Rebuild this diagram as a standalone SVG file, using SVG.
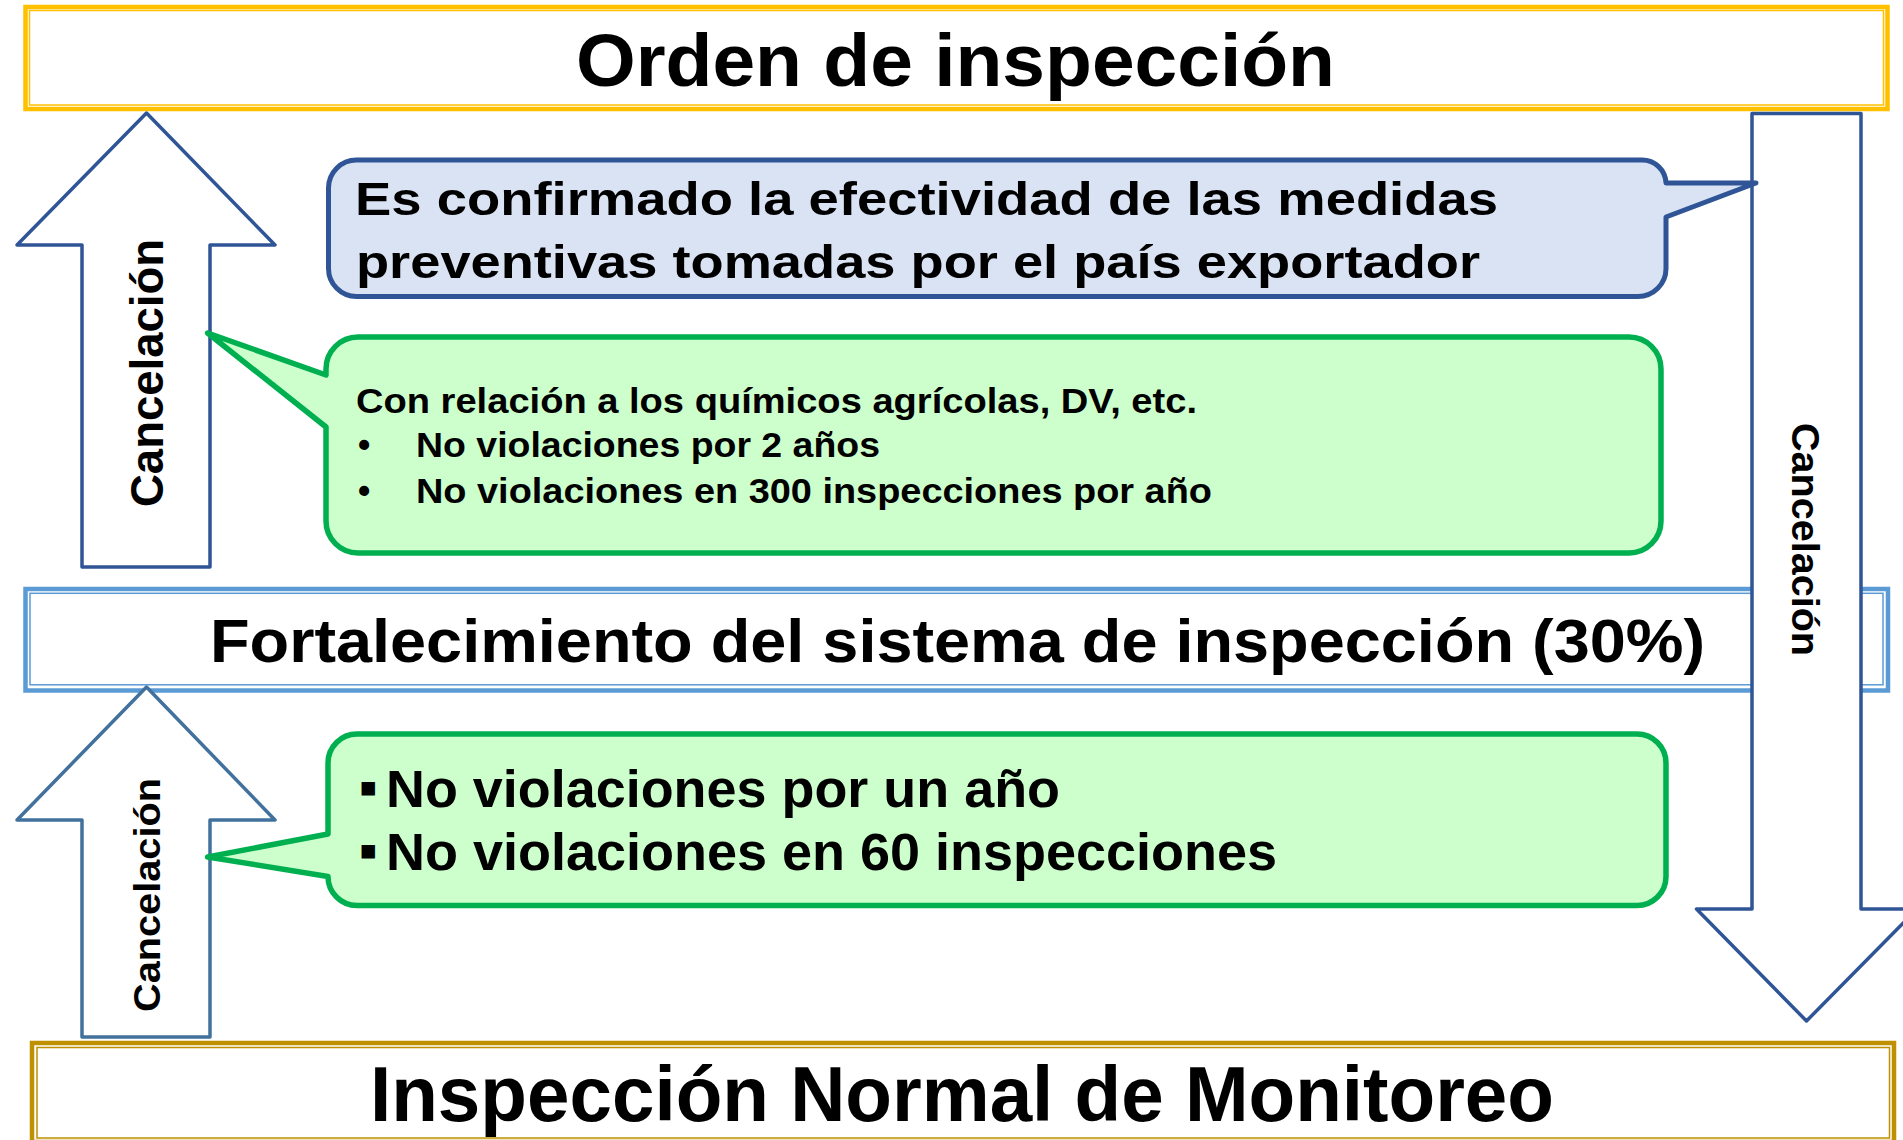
<svg xmlns="http://www.w3.org/2000/svg" width="1903" height="1140" viewBox="0 0 1903 1140">
  <style>
    .t { font-family: "Liberation Sans", Arial, sans-serif; font-weight: bold; fill: #000000; }
    .frame { fill: #FFFFFF; }
    .thick { fill: none; stroke-width: 4.5; }
    .thin { fill: none; stroke-width: 1.5; }
    .gold { stroke: #FFC000; }
    .dgold { stroke: #BF9000; }
    .lblue { stroke: #5B9BD5; }
    .arrow { fill: #FFFFFF; stroke-width: 3.5; stroke-linejoin: round; }
    .callout-blue { fill: #DAE3F3; stroke: #2F5597; stroke-width: 5; stroke-linejoin: round; }
    .callout-green { fill: #CCFFCC; stroke: #00B050; stroke-width: 5.5; stroke-linejoin: round; }
    .sq { font-family: "DejaVu Sans", sans-serif; font-size: 27px; }
  </style>

  <rect width="1903" height="1140" fill="#FFFFFF"/>

  <g id="box-orden">
    <rect class="frame" x="25.5" y="7" width="1862" height="102"/>
    <rect class="thick gold" x="25.5" y="7" width="1862" height="102"/>
    <rect class="thin gold" x="29.5" y="10.5" width="1854" height="94.5"/>
    <text class="t" x="576" y="86" font-size="75" textLength="759" lengthAdjust="spacingAndGlyphs">Orden de inspección</text>
  </g>

  <g id="box-fortalecimiento">
    <rect class="frame" x="25.5" y="589" width="1862.5" height="101.5"/>
    <rect class="thick lblue" x="25.5" y="589" width="1862.5" height="101.5"/>
    <rect class="thin lblue" x="30" y="593.3" width="1853" height="91.5"/>
    <text class="t" x="210" y="662" font-size="62" textLength="1495" lengthAdjust="spacingAndGlyphs">Fortalecimiento del sistema de inspección (30%)</text>
  </g>

  <g id="box-inspeccion">
    <rect class="frame" x="32" y="1043" width="1862" height="99"/>
    <rect class="thick dgold" x="32" y="1043" width="1862" height="99"/>
    <rect class="thin dgold" x="37" y="1047.5" width="1852.5" height="90.5"/>
    <text class="t" x="370" y="1121" font-size="77" textLength="1184" lengthAdjust="spacingAndGlyphs">Inspección Normal de Monitoreo</text>
  </g>

  <g id="connectors">
    <g id="arrow-cancel-1">
      <path class="arrow" stroke="#2F5597" d="M146.5,113 L275,245 H210 V567 H82 V245 H17 Z"/>
      <text class="t" transform="translate(163,507) rotate(-90)" font-size="46" textLength="268" lengthAdjust="spacingAndGlyphs">Cancelación</text>
    </g>
    <g id="arrow-cancel-2">
      <path class="arrow" stroke="#41719C" d="M146.5,687 L275,820 H210 V1037 H82 V820 H17 Z"/>
      <text class="t" transform="translate(159.5,1012) rotate(-90)" font-size="37" textLength="234" lengthAdjust="spacingAndGlyphs">Cancelación</text>
    </g>
    <g id="arrow-cancel-down">
      <path class="arrow" stroke="#2F5597" d="M1752,113.5 H1861 V909 H1917 L1806.5,1021 L1696.5,909 H1752 Z"/>
      <text class="t" transform="translate(1792,423) rotate(90)" font-size="39" textLength="233" lengthAdjust="spacingAndGlyphs">Cancelación</text>
    </g>
  </g>

  <g id="callout-confirmado">
    <path class="callout-blue" d="M356.5,160 H1642 A24,24 0 0 1 1666,183 L1756,183 L1666,217 V268.5 A28,28 0 0 1 1638,296.5 H356.5 A28,28 0 0 1 328.5,268.5 V188 A28,28 0 0 1 356.5,160 Z"/>
    <text class="t" x="355" y="215" font-size="46" textLength="1143" lengthAdjust="spacingAndGlyphs">Es confirmado la efectividad de las medidas</text>
    <text class="t" x="356" y="278" font-size="46" textLength="1124" lengthAdjust="spacingAndGlyphs">preventivas tomadas por el país exportador</text>
  </g>

  <g id="callout-quimicos">
    <path class="callout-green" d="M358,337 H1629 A32,32 0 0 1 1661,369 V521 A32,32 0 0 1 1629,553 H358 A32,32 0 0 1 326,521 V427 L207.6,333 L326,375 V369 A32,32 0 0 1 358,337 Z"/>
    <text class="t" x="356" y="413" font-size="35" textLength="841" lengthAdjust="spacingAndGlyphs">Con relación a los químicos agrícolas, DV, etc.</text>
    <text class="t" font-size="35"><tspan x="358" y="457">•</tspan><tspan x="416" y="457" textLength="464" lengthAdjust="spacingAndGlyphs">No violaciones por 2 años</tspan></text>
    <text class="t" font-size="35"><tspan x="358" y="503">•</tspan><tspan x="416" y="503" textLength="796" lengthAdjust="spacingAndGlyphs">No violaciones en 300 inspecciones por año</tspan></text>
  </g>

  <g id="callout-violaciones">
    <path class="callout-green" d="M357,734 H1637 A29,29 0 0 1 1666,763 V876.5 A29,29 0 0 1 1637,905.5 H357 A29,29 0 0 1 328,876.5 L207.6,857 L328,834 V763 A29,29 0 0 1 357,734 Z"/>
    <text class="t" font-size="51"><tspan class="sq" x="359" y="796">▪</tspan><tspan x="386" y="807" textLength="674" lengthAdjust="spacingAndGlyphs">No violaciones por un año</tspan></text>
    <text class="t" font-size="51"><tspan class="sq" x="359" y="859">▪</tspan><tspan x="386" y="870" textLength="891" lengthAdjust="spacingAndGlyphs">No violaciones en 60 inspecciones</tspan></text>
  </g>
</svg>
